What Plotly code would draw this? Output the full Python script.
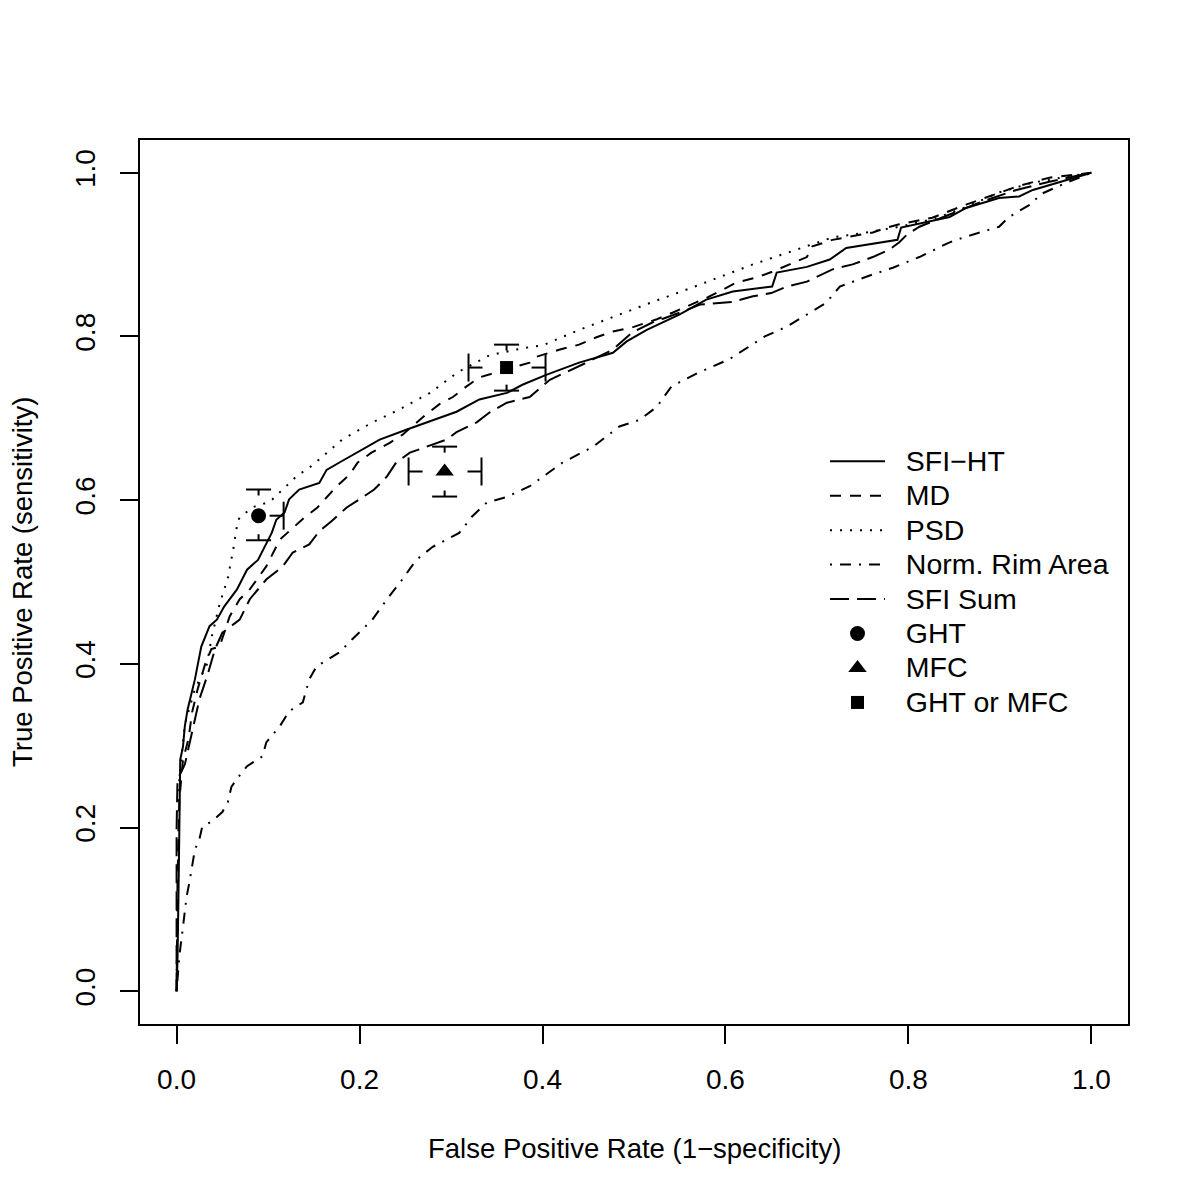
import plotly.graph_objects as go

# ---------------- data ----------------
sfi_ht_fpr = [0, 0.001, 0.002, 0.003, 0.004, 0.007, 0.009, 0.012, 0.020, 0.027, 0.036, 0.044,
              0.052, 0.066, 0.077, 0.089, 0.104, 0.109, 0.118, 0.123, 0.134, 0.156, 0.164,
              0.178, 0.197, 0.222, 0.251, 0.280, 0.306, 0.331, 0.361, 0.378, 0.404, 0.440,
              0.477, 0.492, 0.514, 0.550, 0.579, 0.608, 0.651, 0.656, 0.689, 0.714, 0.732,
              0.788, 0.792, 0.845, 0.863, 0.899, 0.921, 0.936, 0.973, 1.0]
sfi_ht_tpr = [0, 0.039, 0.112, 0.210, 0.283, 0.299, 0.324, 0.344, 0.381, 0.421, 0.446, 0.454,
              0.470, 0.491, 0.515, 0.527, 0.560, 0.576, 0.585, 0.601, 0.613, 0.621, 0.637,
              0.646, 0.658, 0.674, 0.686, 0.698, 0.708, 0.723, 0.731, 0.741, 0.753, 0.768,
              0.780, 0.794, 0.808, 0.827, 0.845, 0.855, 0.861, 0.878, 0.885, 0.894, 0.908,
              0.918, 0.933, 0.946, 0.957, 0.969, 0.971, 0.979, 0.991, 1.0]

md_fpr = [0, 0.001, 0.003, 0.007, 0.013, 0.017, 0.023, 0.031, 0.038, 0.047, 0.058, 0.069,
          0.080, 0.098, 0.113, 0.129, 0.140, 0.154, 0.164, 0.175, 0.189, 0.198, 0.213,
          0.233, 0.247, 0.273, 0.287, 0.302, 0.317, 0.331, 0.358, 0.386, 0.393, 0.419,
          0.440, 0.459, 0.477, 0.498, 0.514, 0.525, 0.542, 0.561, 0.579, 0.597, 0.612,
          0.634, 0.651, 0.670, 0.689, 0.695, 0.717, 0.761, 0.776, 0.790, 0.826, 0.863,
          0.899, 0.918, 0.954, 1.0]
md_tpr = [0, 0.137, 0.234, 0.283, 0.308, 0.341, 0.369, 0.399, 0.418, 0.421, 0.458, 0.479,
          0.491, 0.519, 0.552, 0.568, 0.579, 0.591, 0.604, 0.617, 0.631, 0.646, 0.658,
          0.670, 0.680, 0.705, 0.717, 0.726, 0.739, 0.750, 0.759, 0.768, 0.775, 0.784,
          0.790, 0.799, 0.806, 0.811, 0.817, 0.821, 0.829, 0.838, 0.847, 0.857, 0.866,
          0.872, 0.879, 0.888, 0.897, 0.910, 0.918, 0.927, 0.933, 0.937, 0.945, 0.961,
          0.976, 0.983, 0.994, 1.0]

psd_fpr = [0, 0.001, 0.003, 0.009, 0.020, 0.033, 0.039, 0.047, 0.056, 0.062, 0.067, 0.082,
           0.102, 0.116, 0.131, 0.149, 0.164, 0.181, 0.200, 0.214, 0.244, 0.277, 0.307,
           0.342, 0.380, 0.400, 0.440, 0.484, 0.520, 0.557, 0.593, 0.630, 0.667, 0.689,
           0.717, 0.754, 0.790, 0.826, 0.863, 0.899, 0.936, 0.973, 1.0]
psd_tpr = [0, 0.112, 0.259, 0.326, 0.369, 0.399, 0.436, 0.473, 0.505, 0.540, 0.576, 0.591,
           0.598, 0.613, 0.629, 0.643, 0.658, 0.674, 0.686, 0.695, 0.711, 0.731, 0.756,
           0.777, 0.786, 0.789, 0.808, 0.827, 0.842, 0.857, 0.872, 0.888, 0.902, 0.910,
           0.921, 0.927, 0.934, 0.943, 0.958, 0.976, 0.988, 0.995, 1.0]

rim_fpr = [0, 0.003, 0.007, 0.011, 0.014, 0.017, 0.020, 0.025, 0.028, 0.039, 0.050, 0.056,
           0.060, 0.067, 0.077, 0.094, 0.098, 0.113, 0.123, 0.138, 0.145, 0.153, 0.178,
           0.192, 0.214, 0.230, 0.244, 0.262, 0.280, 0.309, 0.323, 0.339, 0.361, 0.386,
           0.422, 0.455, 0.484, 0.506, 0.525, 0.541, 0.569, 0.604, 0.643, 0.667, 0.689,
           0.710, 0.725, 0.754, 0.783, 0.812, 0.845, 0.863, 0.899, 0.910, 0.936, 0.943,
           0.973, 1.0]
rim_tpr = [0, 0.043, 0.079, 0.116, 0.133, 0.153, 0.173, 0.186, 0.201, 0.208, 0.219, 0.231,
           0.250, 0.261, 0.275, 0.287, 0.304, 0.324, 0.342, 0.353, 0.381, 0.397, 0.414,
           0.430, 0.454, 0.479, 0.499, 0.527, 0.543, 0.560, 0.580, 0.597, 0.604, 0.617,
           0.646, 0.665, 0.690, 0.698, 0.714, 0.739, 0.755, 0.772, 0.800, 0.812, 0.827,
           0.841, 0.861, 0.873, 0.884, 0.897, 0.915, 0.922, 0.934, 0.946, 0.963, 0.973,
           0.988, 1.0]

sum_fpr = [0, 0.0, 0.0, 0.001, 0.009, 0.014, 0.020, 0.025, 0.034, 0.042, 0.050, 0.069,
           0.080, 0.098, 0.116, 0.127, 0.145, 0.156, 0.169, 0.186, 0.200, 0.216, 0.230,
           0.240, 0.255, 0.295, 0.306, 0.328, 0.342, 0.361, 0.386, 0.408, 0.448, 0.477,
           0.498, 0.520, 0.550, 0.572, 0.607, 0.630, 0.650, 0.667, 0.689, 0.717, 0.739,
           0.761, 0.779, 0.790, 0.798, 0.812, 0.845, 0.881, 0.918, 0.954, 1.0]
sum_tpr = [0, 0.112, 0.198, 0.259, 0.277, 0.302, 0.332, 0.357, 0.387, 0.418, 0.438, 0.454,
           0.479, 0.503, 0.519, 0.536, 0.546, 0.562, 0.574, 0.591, 0.601, 0.613, 0.629,
           0.646, 0.658, 0.674, 0.683, 0.695, 0.707, 0.719, 0.726, 0.747, 0.768, 0.784,
           0.805, 0.817, 0.829, 0.839, 0.842, 0.849, 0.853, 0.861, 0.867, 0.882, 0.888,
           0.897, 0.906, 0.915, 0.924, 0.934, 0.949, 0.965, 0.979, 0.989, 1.0]

# point estimates with confidence intervals (None = bound not drawn)
pt_names = ["GHT", "MFC", "GHT or MFC"]
pt_symbols = ["circle", "triangle-up", "square"]
pt_sizes = [15, 16, 13]
pt_fpr = [0.0896, 0.293, 0.3607]
pt_tpr = [0.581, 0.635, 0.762]
pt_fpr_lo = [None, 0.2536, 0.3191]
pt_fpr_hi = [0.117, 0.3333, 0.4033]
pt_tpr_lo = [0.551, 0.6044, 0.7338]
pt_tpr_hi = [0.613, 0.6654, 0.790]

curve_names = ["SFI\u2212HT", "MD", "PSD", "Norm. Rim Area", "SFI Sum"]
curve_x = [sfi_ht_fpr, md_fpr, psd_fpr, rim_fpr, sum_fpr]
curve_y = [sfi_ht_tpr, md_tpr, psd_tpr, rim_tpr, sum_tpr]
curve_dash = ["solid", "11px,9px", "2px,8px", "2px,8px,11px,8px", "19px,8px"]

x_ticks = [0.0, 0.2, 0.4, 0.6, 0.8, 1.0]
y_ticks = [0.0, 0.2, 0.4, 0.6, 0.8, 1.0]
x_title = "False Positive Rate (1\u2212specificity)"
y_title = "True Positive Rate (sensitivity)"

# ---------------- figure ----------------
FONT = "Liberation Sans, Arial, Helvetica, sans-serif"
W, H = 1200, 1200
ML, MR, MT, MB = 132, 80, 132, 184   # page has an 8px body margin
PW, PH = W - ML - MR, H - MT - MB
XR = [-0.04, 1.04]
YR = [-0.04, 1.04]
px_x = (XR[1] - XR[0]) / PW   # data units per pixel
px_y = (YR[1] - YR[0]) / PH


def big(s):
    # larger legend text than the legend's row spacing font; two no-break spaces as gap
    return f"<span style='font-size:28.5px'>\u00a0\u00a0{s}</span>"


fig = go.Figure()
for name, xs, ys, dash in zip(curve_names, curve_x, curve_y, curve_dash):
    fig.add_trace(go.Scatter(x=xs, y=ys, mode="lines", name=big(name),
                             line=dict(color="black", width=2, dash=dash)))

# error bars: caps with short stems, as in the reference
cap_v = 12.5 * px_x      # half-width of caps on vertical bars
stem_v = 6 * px_y
cap_h = 14 * px_y        # half-height of caps on horizontal bars
stem_h = 14 * px_x
ex, ey = [], []
for x0, y0, xl, xh, yl, yh in zip(pt_fpr, pt_tpr, pt_fpr_lo, pt_fpr_hi, pt_tpr_lo, pt_tpr_hi):
    if yh is not None:
        ex += [x0 - cap_v, x0 + cap_v, None, x0, x0, None]
        ey += [yh, yh, None, yh, yh - stem_v, None]
    if yl is not None:
        ex += [x0 - cap_v, x0 + cap_v, None, x0, x0, None]
        ey += [yl, yl, None, yl, yl + stem_v, None]
    if xl is not None:
        ex += [xl, xl, None, xl, xl + stem_h, None]
        ey += [y0 - cap_h, y0 + cap_h, None, y0, y0, None]
    if xh is not None:
        ex += [xh, xh, None, xh, xh - stem_h, None]
        ey += [y0 - cap_h, y0 + cap_h, None, y0, y0, None]
fig.add_trace(go.Scatter(x=ex, y=ey, mode="lines", showlegend=False, hoverinfo="skip",
                         line=dict(color="black", width=2)))

for name, sym, sz, x0, y0 in zip(pt_names, pt_symbols, pt_sizes, pt_fpr, pt_tpr):
    fig.add_trace(go.Scatter(x=[x0], y=[y0], mode="markers", name=big(name),
                             marker=dict(symbol=sym, size=sz, color="black")))

axis_common = dict(showgrid=False, zeroline=False, showline=True, mirror=True,
                   linecolor="black", linewidth=2, ticks="outside", ticklen=18,
                   tickwidth=1.5, tickcolor="black",
                   tickfont=dict(family=FONT, size=28, color="black"))
fig.update_xaxes(range=XR, tickvals=x_ticks, ticktext=[f"{v:.1f}" for v in x_ticks],
                 ticklabelstandoff=11, **axis_common)
fig.update_yaxes(range=YR, tickvals=y_ticks, ticktext=[f"{v:.1f}" for v in y_ticks],
                 tickangle=-90, ticklabelstandoff=14, **axis_common)

fig.add_annotation(text=x_title, xref="paper", yref="paper", x=0.5, y=-124 / PH,
                   xanchor="center", yanchor="middle", showarrow=False,
                   font=dict(family=FONT, size=27.5, color="black"))
fig.add_annotation(text=y_title, xref="paper", yref="paper", x=-118 / PW, y=0.5,
                   xanchor="center", yanchor="middle", textangle=-90, showarrow=False,
                   font=dict(family=FONT, size=27.5, color="black"))

fig.update_layout(
    width=W, height=H, margin=dict(l=ML, r=MR, t=MT, b=MB),
    paper_bgcolor="white", plot_bgcolor="white",
    legend=dict(x=(817 - ML) / PW, y=1 - (431 - MT) / PH,
                xanchor="left", yanchor="top", bgcolor="rgba(0,0,0,0)", borderwidth=0,
                font=dict(family=FONT, size=24.2, color="black"), itemwidth=55,
                tracegroupgap=0),
    showlegend=True,
)

fig.write_html("out.html")
